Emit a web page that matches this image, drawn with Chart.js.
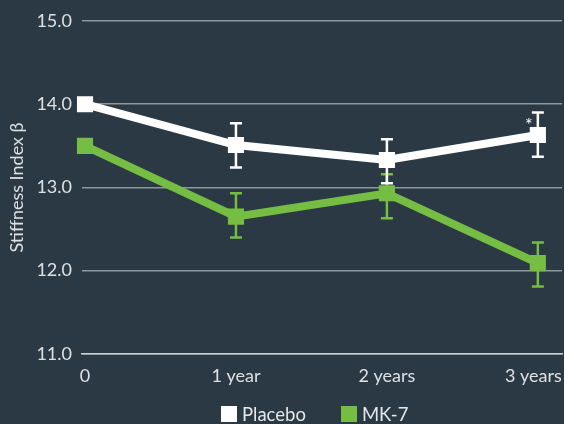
<!DOCTYPE html>
<html>
<head>
<meta charset="utf-8">
<script src="https://cdn.jsdelivr.net/npm/chart.js@4.4.1/dist/chart.umd.min.js"></script>
<style>
  html, body { margin: 0; padding: 0; background: #2a3944; }
  #wrap { position: relative; width: 564px; height: 424px; }
  #chart { position: absolute; left: 0; top: 0; }
  #legend {
    position: absolute; left: 221px; top: 403px; display: flex; align-items: center;
    font-family: Lato, "Open Sans", sans-serif; font-size: 18.5px; color: #e4e7e9;
  }
  .item { display: flex; align-items: center; margin-right: 35px; }
  .box { width: 16px; height: 16px; margin-right: 5px; }
</style>
</head>
<body>
<div id="wrap">
  <canvas id="chart" width="564" height="424"></canvas>
  <div id="legend"></div>
</div>
<script>
// Follow-up time points and their axis labels
const years = [0, 1, 2, 3];
const categories = ['0', '1 year', '2 years', '3 years'];

// Stiffness index β: means with upper / lower error-bar limits
const placebo     = [14.00, 13.51, 13.33, 13.63];
const placeboHigh = [null, 13.77, 13.58, 13.90];
const placeboLow  = [null, 13.24, 13.05, 13.37];

const mk7     = [13.50, 12.65, 12.93, 12.09];
const mk7High = [null, 12.93, 13.16, 12.34];
const mk7Low  = [null, 12.40, 12.63, 11.81];

// Significance marks shown next to the placebo error bars
const placeboMarks = ['', '', '', '*'];

const yTicks = [11, 12, 13, 14, 15];

const WHITE = '#ffffff';
const GREEN = '#76be43';
const TEXT = '#dde1e4';
const FONT = 'Lato, "Open Sans", sans-serif';

const toPoints = vals => years.map((x, i) => ({ x: x, y: vals[i] }));

// Draws vertical error bars with caps, plus significance marks
const errorBars = {
  id: 'errorBars',
  beforeDatasetsDraw(chart) {
    const { ctx, scales: { x, y } } = chart;
    chart.data.datasets.forEach((ds) => {
      ctx.save();
      ctx.strokeStyle = ds.borderColor;
      ctx.lineWidth = 2.5;
      years.forEach((yr, i) => {
        const hi = ds.errHigh[i], lo = ds.errLow[i];
        if (hi == null || lo == null) return;
        const px = x.getPixelForValue(yr);
        const pTop = y.getPixelForValue(hi);
        const pBot = y.getPixelForValue(lo);
        ctx.beginPath();
        ctx.moveTo(px, pTop); ctx.lineTo(px, pBot);
        ctx.moveTo(px - 6, pTop); ctx.lineTo(px + 6, pTop);
        ctx.moveTo(px - 6, pBot); ctx.lineTo(px + 6, pBot);
        ctx.stroke();
      });
      ctx.restore();
    });
  },
  afterDatasetsDraw(chart) {
    const { ctx, scales: { x, y } } = chart;
    ctx.save();
    ctx.fillStyle = WHITE;
    ctx.font = '18px ' + FONT;
    ctx.textAlign = 'center';
    ctx.textBaseline = 'middle';
    placeboMarks.forEach((m, i) => {
      if (!m) return;
      ctx.fillText(m, x.getPixelForValue(years[i]) - 9, y.getPixelForValue(placeboHigh[i]) + 13);
    });
    ctx.restore();
  }
};

const chart = new Chart(document.getElementById('chart'), {
  type: 'line',
  data: {
    datasets: [
      {
        label: 'MK-7',
        data: toPoints(mk7),
        errHigh: mk7High, errLow: mk7Low,
        borderColor: GREEN, backgroundColor: GREEN,
        borderWidth: 8,
        pointStyle: 'rect', pointRadius: 10, pointBorderWidth: 2,
        pointBackgroundColor: GREEN, pointBorderColor: GREEN,
        tension: 0, clip: false
      },
      {
        label: 'Placebo',
        data: toPoints(placebo),
        errHigh: placeboHigh, errLow: placeboLow,
        borderColor: WHITE, backgroundColor: WHITE,
        borderWidth: 8,
        pointStyle: 'rect', pointRadius: 10, pointBorderWidth: 2,
        pointBackgroundColor: WHITE, pointBorderColor: WHITE,
        tension: 0, clip: false
      }
    ]
  },
  options: {
    responsive: false,
    animation: false,
    layout: { autoPadding: false, padding: { top: 21, right: 2, bottom: 26.5, left: 0 } },
    plugins: {
      legend: { display: false },
      tooltip: { enabled: false }
    },
    scales: {
      x: {
        type: 'linear',
        min: -0.02,
        max: 3.16,
        afterBuildTicks: (s) => { s.ticks = years.map(v => ({ value: v })); },
        afterFit: (s) => { s.paddingLeft = 0; s.paddingRight = 0; },
        ticks: {
          color: TEXT,
          font: { family: FONT, size: 18 },
          padding: 11,
          maxRotation: 0,
          // keep the last label inside the canvas edge
          callback: (v) => {
            const i = years.indexOf(v);
            return i === years.length - 1 ? categories[i] + '\u2002' : categories[i];
          }
        },
        grid: { display: false, drawTicks: false },
        border: { display: true, color: '#cfd2d4', width: 1.5 }
      },
      y: {
        min: 11,
        max: 15,
        afterBuildTicks: (s) => { s.ticks = yTicks.map(v => ({ value: v })); },
        afterFit: (s) => { s.width = 82; },
        ticks: {
          color: TEXT,
          font: { family: FONT, size: 18 },
          padding: 10,
          callback: (v) => Number(v).toFixed(1)
        },
        grid: { color: '#8d979d', lineWidth: 1.5, drawTicks: false },
        border: { display: false },
        title: {
          display: true,
          text: 'Stiffness Index β',
          color: TEXT,
          font: { family: FONT, size: 18 },
          padding: { top: 6, bottom: 0 }
        }
      }
    }
  },
  plugins: [errorBars]
});

// Legend entries in the same order as shown under the chart
const legend = document.getElementById('legend');
[chart.data.datasets[1], chart.data.datasets[0]].forEach(ds => {
  const item = document.createElement('div');
  item.className = 'item';
  const box = document.createElement('span');
  box.className = 'box';
  box.style.background = ds.borderColor;
  const label = document.createElement('span');
  label.textContent = ds.label;
  item.appendChild(box);
  item.appendChild(label);
  legend.appendChild(item);
});
</script>
</body>
</html>
